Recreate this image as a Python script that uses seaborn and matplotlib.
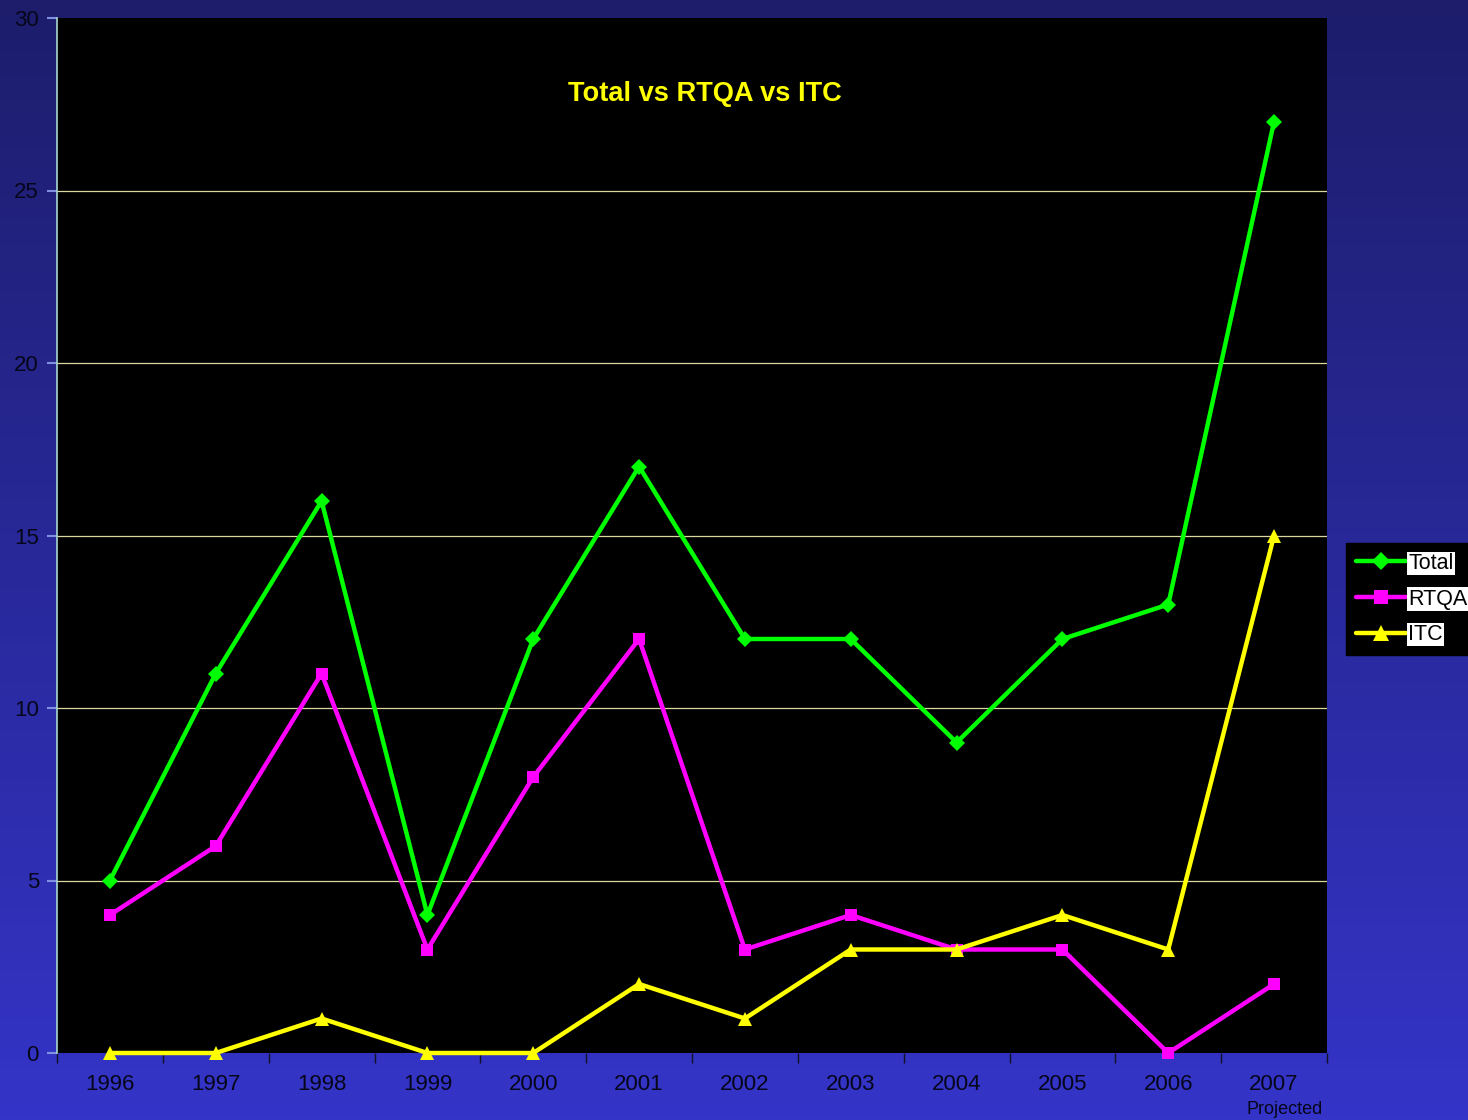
import numpy as np
import pandas as pd
import matplotlib
matplotlib.use("Agg")
import matplotlib.pyplot as plt
import seaborn as sns
from matplotlib.colors import LinearSegmentedColormap

years = [1996, 1997, 1998, 1999, 2000, 2001, 2002, 2003, 2004, 2005, 2006, 2007]
total = [5, 11, 16, 4, 12, 17, 12, 12, 9, 12, 13, 27]
rtqa = [4, 6, 11, 3, 8, 12, 3, 4, 3, 3, 0, 2]
itc = [0, 0, 1, 0, 0, 2, 1, 3, 3, 4, 3, 15]
series_names = ["Total", "RTQA", "ITC"]
y_ticks = [0, 5, 10, 15, 20, 25, 30]

df = pd.DataFrame({
    "Year": years * 3,
    "Value": total + rtqa + itc,
    "Series": [s for s in series_names for _ in years],
})

sns.set_theme(style="white")
plt.rcParams["font.family"] = ["Liberation Sans", "DejaVu Sans"]

W, H = 1468, 1120
fig = plt.figure(figsize=(W / 100, H / 100), dpi=100)

# gradient backdrop behind everything
bg = fig.add_axes([0, 0, 1, 1], zorder=-10)
grad = np.linspace(0, 1, 256).reshape(-1, 1)
cmap = LinearSegmentedColormap.from_list("bg", ["#1d1d6c", "#3434c8"])
bg.imshow(grad, aspect="auto", cmap=cmap, extent=[0, 1, 0, 1], origin="upper")
bg.set_axis_off()

ax = fig.add_axes([57 / W, (H - 1053) / H, 1270 / W, 1035 / H])
ax.set_facecolor("black")

palette = {"Total": "#00ff00", "RTQA": "#ff00ff", "ITC": "#ffff00"}
markers = {"Total": "D", "RTQA": "s", "ITC": "^"}
sns.lineplot(data=df, x="Year", y="Value", hue="Series", style="Series",
             palette=palette, markers=markers, dashes=False, sort=False,
             linewidth=3.2, markeredgewidth=0, ax=ax,
             legend=True, clip_on=False, zorder=5)

marker_sizes = {"D": 8, "s": 9, "^": 10.5}
for ln in ax.lines:
    m = ln.get_marker()
    if m in marker_sizes:
        ln.set_markersize(marker_sizes[m])
        ln.set_markeredgewidth(0)

ax.set_xlim(1995.5, 2007.5)
ax.set_ylim(0, 30)
ax.set_yticks(y_ticks)
ax.set_yticklabels([str(v) for v in y_ticks], fontsize=16, color="#06061a")
ax.set_xticks(years)
ax.set_xticklabels([str(y) for y in years], fontsize=16, color="#06061a")
ax.set_xticks(np.arange(1995.5, 2008, 1), minor=True)
ax.tick_params(axis="x", which="both", bottom=True, direction="out")
ax.tick_params(axis="x", which="major", length=0, pad=15)
ax.tick_params(axis="x", which="minor", length=7, width=1, color="#111122")
ax.tick_params(axis="y", which="major", left=True, direction="out",
               length=7, width=1.5, color="#8090e0", pad=6)
ax.grid(False)
for y in y_ticks[1:-1]:
    ax.axhline(y, color="#d8d8a0", linewidth=0.9, zorder=1)
ax.set_xlabel("")
ax.set_ylabel("")
for side in ["top", "right", "bottom"]:
    ax.spines[side].set_visible(False)
ax.spines["left"].set_color("#a8d8d0")
ax.spines["left"].set_linewidth(1.2)

ax.text((705 - 57) / 1270, (1053 - 94) / 1035, "Total vs RTQA vs ITC",
        transform=ax.transAxes, ha="center", va="center",
        fontsize=19.6, fontweight="bold", color="#ffff00")

ax.text(2007.1, -1.65, "Projected", ha="center", va="center",
        fontsize=13, color="#06061a", clip_on=False)

handles, labels = ax.get_legend_handles_labels()
for h in handles:
    m = h.get_marker()
    if m in marker_sizes:
        h.set_markersize(marker_sizes[m] + 1)
ax.get_legend().remove()
leg = fig.legend(handles, labels, loc="center left",
                 bbox_to_anchor=(1346 / W, (H - 599) / H),
                 frameon=True, fancybox=False, facecolor="black",
                 edgecolor="black", framealpha=1, fontsize=15.5,
                 handlelength=2.35, handletextpad=0.1, labelspacing=0.68,
                 borderpad=0.45, borderaxespad=0)
for t in leg.get_texts():
    t.set_color("black")
    t.set_bbox(dict(facecolor="white", edgecolor="none", pad=1))

fig.savefig("out.png", dpi=100)
